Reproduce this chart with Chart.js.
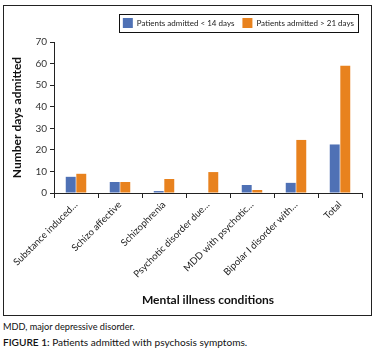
<!DOCTYPE html>
<html>
<head>
<meta charset="utf-8">
<script src="https://cdn.jsdelivr.net/npm/chart.js@4/dist/chart.umd.min.js"></script>
<style>
    html, body { margin: 0; padding: 0; background: #fff; }
    body { width: 379px; height: 350px; position: relative; font-family: Lato, sans-serif; }
    #frame { position: absolute; left: 3px; top: 5px; width: 367px; height: 309px; border: 1px solid #222; }
    #chart-wrap { position: absolute; left: 0; top: 0; width: 367px; height: 309px; }
    .note { position: absolute; left: 3px; top: 321px; font-size: 9.2px; color: #111; }
    .caption { position: absolute; left: 3px; top: 336px; font-size: 10.1px; color: #111; }
    .caption b { font-weight: 600; }
</style>
</head>
<body>
<div id="frame"><div id="chart-wrap"><canvas id="admission-chart"></canvas></div></div>
<div class="note">MDD, major depressive disorder.</div>
<div class="caption"><b>FIGURE 1:</b> Patients admitted with psychosis symptoms.</div>
<script>
const conditions = [
    'Substance induced…',
    'Schizo affective',
    'Schizophrenia',
    'Psychotic disorder due…',
    'MDD with psychotic…',
    'Bipolar I disorder with…',
    'Total',
];
const under14Days = [7.5, 5.1, 0.9, 0, 3.7, 4.7, 22.5];
const over21Days = [8.9, 5.1, 6.5, 9.7, 1.4, 24.6, 59];
const yTicks = [0, 10, 20, 30, 40, 50, 60, 70];

const legendBorder = {
    id: 'legendBorder',
    beforeInit(chart) {
        const fit = chart.legend.fit;
        chart.legend.fit = function () {
            fit.bind(chart.legend)();
            this.height = 32;
        };
    },
    afterDraw(chart) {
        const boxes = chart.legend.legendHitBoxes;
        if (!boxes || !boxes.length) return;
        const left = Math.min(...boxes.map((b) => b.left)) - 4;
        const right = Math.max(...boxes.map((b) => b.left + b.width)) + 4;
        const top = Math.min(...boxes.map((b) => b.top)) - 4;
        const bottom = Math.max(...boxes.map((b) => b.top + b.height)) + 4;
        const ctx = chart.ctx;
        ctx.save();
        ctx.strokeStyle = '#111';
        ctx.lineWidth = 1;
        ctx.strokeRect(Math.round(left) + 0.5, Math.round(top) + 0.5, Math.round(right - left), Math.round(bottom - top));
        ctx.restore();
    },
};

function renderAdmissionChart() {
    const canvas = document.getElementById('admission-chart');
    if (!canvas || typeof Chart === 'undefined') return;

    new Chart(canvas, {
        type: 'bar',
        data: {
            labels: conditions,
            datasets: [
                {
                    label: 'Patients admitted < 14 days',
                    data: under14Days,
                    backgroundColor: '#4f71b5',
                    categoryPercentage: 0.48,
                    barPercentage: 0.94,
                },
                {
                    label: 'Patients admitted > 21 days',
                    data: over21Days,
                    backgroundColor: '#e8821e',
                    categoryPercentage: 0.48,
                    barPercentage: 0.94,
                },
            ],
        },
        options: {
            responsive: true,
            maintainAspectRatio: false,
            animation: false,
            layout: { padding: { top: 4, right: 9, bottom: 6, left: 0 } },
            plugins: {
                legend: {
                    position: 'top',
                    align: 'end',
                    labels: {
                        boxWidth: 10,
                        boxHeight: 10,
                        padding: 8,
                        color: '#222',
                        font: { family: 'Lato', size: 8 },
                    },
                },
                tooltip: { enabled: false },
            },
            scales: {
                x: {
                    afterFit: (scale) => { scale.height = 116; },
                    grid: { drawOnChartArea: false, offset: true, tickLength: 5, color: '#222' },
                    border: { color: '#222' },
                    ticks: {
                        minRotation: 45,
                        maxRotation: 45,
                        padding: 1,
                        color: '#222',
                        font: { family: 'Lato', size: 9.6 },
                    },
                    title: {
                        display: true,
                        text: 'Mental illness conditions',
                        color: '#111',
                        font: { family: 'Lato', size: 12, weight: 'bold' },
                        padding: { top: 0, bottom: 2 },
                    },
                },
                y: {
                    min: 0,
                    max: 70,
                    afterFit: (scale) => { scale.width = 50; },
                    afterBuildTicks: (scale) => { scale.ticks = yTicks.map((value) => ({ value })); },
                    grid: { drawOnChartArea: false, tickLength: 4, color: '#222' },
                    border: { color: '#222' },
                    ticks: {
                        padding: 3,
                        color: '#333',
                        font: { family: 'Lato', size: 10 },
                    },
                    title: {
                        display: true,
                        text: 'Number days admitted',
                        color: '#111',
                        font: { family: 'Lato', size: 12, weight: 'bold' },
                        padding: { top: 6, bottom: 0 },
                    },
                },
            },
        },
        plugins: [legendBorder],
    });
}

document.addEventListener('DOMContentLoaded', renderAdmissionChart);
</script>
</body>
</html>
